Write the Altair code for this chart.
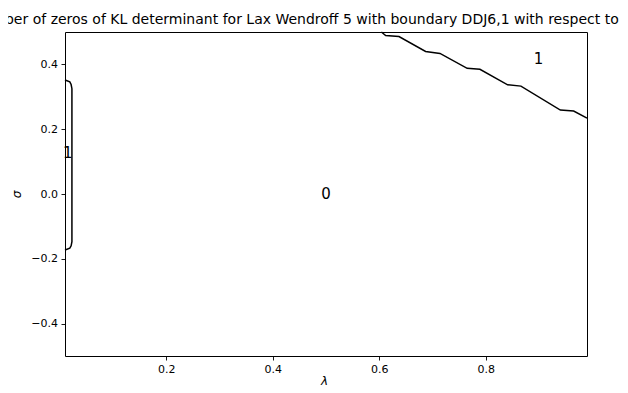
import altair as alt
import pandas as pd

title_text = "Number of zeros of KL determinant for Lax Wendroff 5 with boundary DDJ6,1 with respect to λ and σ"

# contour line near lambda ~ 0
left_lam = [0.010, 0.019, 0.0215, 0.023, 0.023, 0.0215, 0.019, 0.010]
left_sig = [0.352, 0.346, 0.338, 0.325, -0.147, -0.160, -0.167, -0.173]

# contour line in the upper right
right_lam = [0.604, 0.612, 0.637, 0.687, 0.714, 0.765, 0.789, 0.841, 0.866, 0.940, 0.965, 0.990]
right_sig = [0.500, 0.489, 0.486, 0.440, 0.434, 0.388, 0.385, 0.337, 0.333, 0.259, 0.256, 0.234]

# region labels
label_text = ["0", "1", "1"]
label_lam = [0.500, 0.899, 0.015]
label_sig = [0.000, 0.417, 0.126]

x_ticks = [0.2, 0.4, 0.6, 0.8]
y_ticks = [-0.4, -0.2, 0.0, 0.2, 0.4]

rows = []
for seg, (ls, ss) in enumerate([(left_lam, left_sig), (right_lam, right_sig)]):
    for i, (l, s) in enumerate(zip(ls, ss)):
        rows.append({"seg": seg, "i": i, "lam": l, "sig": s})
lines_df = pd.DataFrame(rows)
labels_df = pd.DataFrame({"t": label_text, "lam": label_lam, "sig": label_sig})

FONT = "DejaVu Sans"
xs = alt.Scale(domain=[0.01, 0.99], nice=False, zero=False)
ys = alt.Scale(domain=[-0.5, 0.5], nice=False, zero=False)

lines = alt.Chart(lines_df).mark_line(color="black", strokeWidth=1.5).encode(
    x=alt.X("lam:Q", scale=xs, axis=alt.Axis(values=x_ticks, format=".1f", title="λ",
                                             titleBaseline="alphabetic", titleX=259, titleY=28.5)),
    y=alt.Y("sig:Q", scale=ys, axis=alt.Axis(values=y_ticks, format=".1f", title="σ")),
    detail="seg:N",
    order="i:Q",
)

labels = alt.Chart(labels_df).mark_text(font=FONT, fontSize=15, color="black").encode(
    x=alt.X("lam:Q", scale=xs),
    y=alt.Y("sig:Q", scale=ys),
    text="t:N",
)

chart = alt.layer(lines, labels).properties(
    width=522,
    height=324,
    title=alt.Title(text=title_text, font=FONT, fontSize=14, fontWeight="normal",
                    color="black", anchor="start", frame="group", baseline="alphabetic",
                    offset=-9, dx=-93),
    autosize=alt.AutoSizeParams(type="none"),
    padding={"left": 57, "top": 24, "right": 33, "bottom": 29},
).configure_view(stroke="black", strokeWidth=1).configure_axis(
    domain=False, grid=False, tickColor="black", tickSize=4, tickWidth=0.9,
    labelFont=FONT, labelFontSize=11, labelColor="black", labelPadding=3.5,
    titleFont=FONT, titleFontSize=12, titleFontStyle="italic", titleFontWeight="normal",
    titleColor="black",
).configure_axisY(titlePadding=7.5)

chart.save("out.html", embed_options={"renderer": "svg", "actions": False})
